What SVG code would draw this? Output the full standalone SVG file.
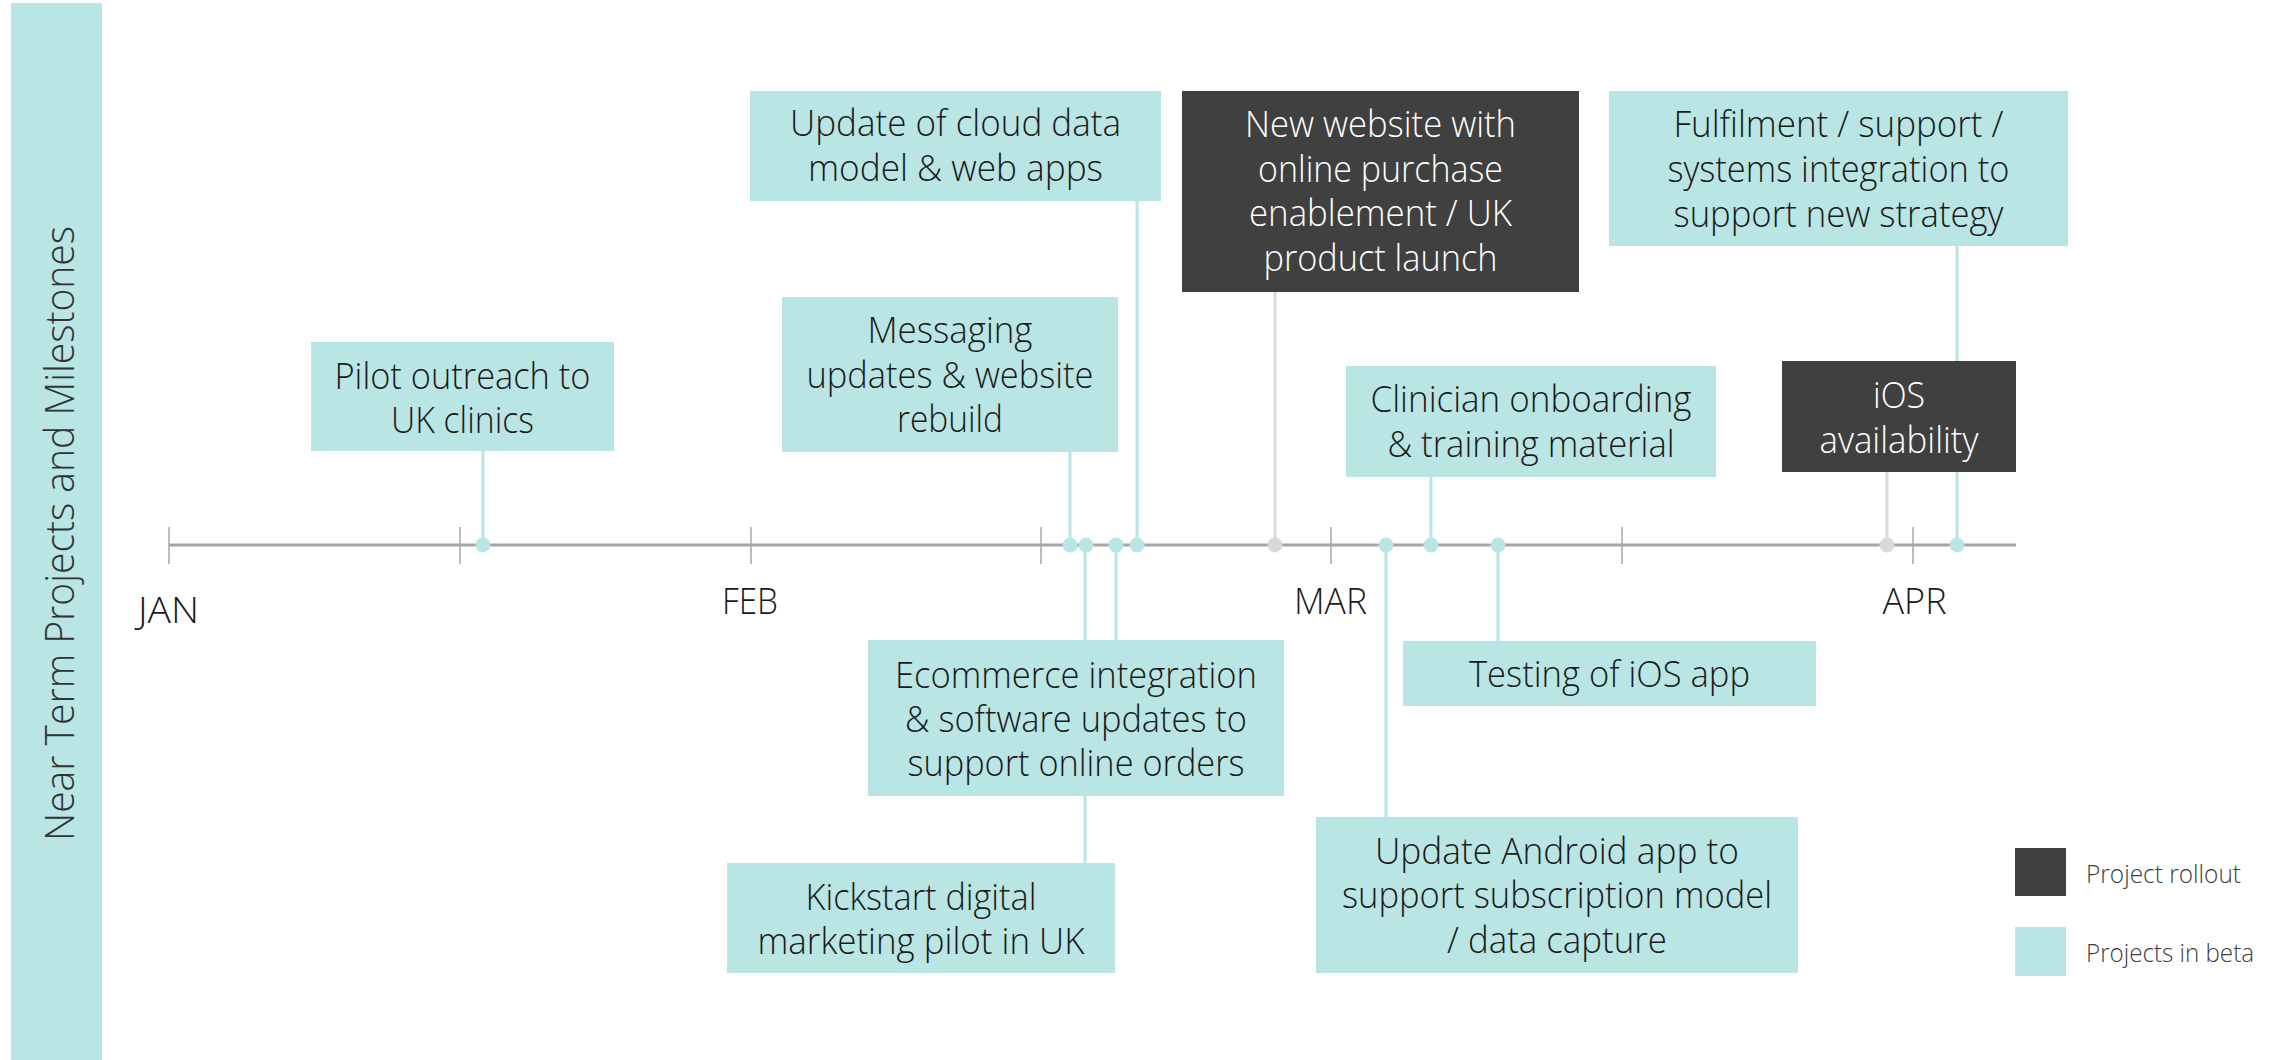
<svg xmlns="http://www.w3.org/2000/svg" width="2285" height="1060" viewBox="0 0 2285 1060">
<style>
.bg{fill:#ffffff}
.beta{fill:#b9e5e5}
.roll{fill:#404040}
.t{font-family:"Open Sans","Noto Sans","Liberation Sans",sans-serif;font-weight:300;font-size:36px;fill:#1a1a1a;text-anchor:middle}
.tw{fill:#ffffff}
.mon{font-family:"Open Sans","Noto Sans","Liberation Sans",sans-serif;font-weight:300;font-size:36px;fill:#1a1a1a;text-anchor:middle}
.leg{font-family:"Open Sans","Noto Sans","Liberation Sans",sans-serif;font-weight:300;font-size:26px;fill:#404040}
.title{font-family:"Open Sans","Noto Sans","Liberation Sans",sans-serif;font-weight:300;font-size:40px;fill:#333333;text-anchor:middle}
.axis{stroke:#a6a6a6;stroke-width:3;fill:none}
.tick{stroke:#a6a6a6;stroke-width:1.5;fill:none}
.cb{stroke:#b9e5e5;stroke-width:3;fill:none}
.cg{stroke:#d9d9d9;stroke-width:3;fill:none}
.db{fill:#b9e5e5}
.dg{fill:#d9d9d9}
</style>
<rect class="bg" x="0" y="0" width="2285" height="1060"/>
<g id="title-bar">
<rect class="beta" x="11" y="3" width="91" height="1057"/>
<text class="title" transform="translate(74,533.5) rotate(-90)" textLength="615" lengthAdjust="spacingAndGlyphs">Near Term Projects and Milestones</text>
</g>
<g id="axis">
<line class="axis" x1="169" y1="545" x2="2016" y2="545"/>
<line class="tick" x1="169" y1="527" x2="169" y2="564"/>
<line class="tick" x1="460" y1="527" x2="460" y2="564"/>
<line class="tick" x1="751" y1="527" x2="751" y2="564"/>
<line class="tick" x1="1041" y1="527" x2="1041" y2="564"/>
<line class="tick" x1="1331" y1="527" x2="1331" y2="564"/>
<line class="tick" x1="1622" y1="527" x2="1622" y2="564"/>
<line class="tick" x1="1913" y1="527" x2="1913" y2="564"/>
<text class="mon" x="168.5" y="623" textLength="61" lengthAdjust="spacingAndGlyphs">JAN</text>
<text class="mon" x="750" y="614" textLength="56" lengthAdjust="spacingAndGlyphs">FEB</text>
<text class="mon" x="1330.5" y="614" textLength="73" lengthAdjust="spacingAndGlyphs">MAR</text>
<text class="mon" x="1914.5" y="614" textLength="64" lengthAdjust="spacingAndGlyphs">APR</text>
</g>
<g id="connectors">
<line class="cb" x1="483" y1="451" x2="483" y2="545"/>
<line class="cb" x1="1070" y1="452" x2="1070" y2="545"/>
<line class="cb" x1="1085" y1="545" x2="1085" y2="863"/>
<line class="cb" x1="1116" y1="545" x2="1116" y2="640"/>
<line class="cb" x1="1137" y1="201" x2="1137" y2="545"/>
<line class="cg" x1="1275" y1="292" x2="1275" y2="545"/>
<line class="cb" x1="1386" y1="545" x2="1386" y2="817"/>
<line class="cb" x1="1431" y1="477" x2="1431" y2="545"/>
<line class="cb" x1="1498" y1="545" x2="1498" y2="641"/>
<line class="cg" x1="1887" y1="472" x2="1887" y2="545"/>
<line class="cb" x1="1957" y1="246" x2="1957" y2="545"/>
<circle class="db" cx="483" cy="545" r="7.5"/>
<circle class="db" cx="1070" cy="545" r="7.5"/>
<circle class="db" cx="1086" cy="545" r="7.5"/>
<circle class="db" cx="1116" cy="545" r="7.5"/>
<circle class="db" cx="1137" cy="545" r="7.5"/>
<circle class="dg" cx="1275" cy="545" r="7.5"/>
<circle class="db" cx="1386" cy="545" r="7.5"/>
<circle class="db" cx="1431" cy="545" r="7.5"/>
<circle class="db" cx="1498" cy="545" r="7.5"/>
<circle class="dg" cx="1887" cy="545" r="7.5"/>
<circle class="db" cx="1957" cy="545" r="7.5"/>
</g>
<g id="pilot">
<rect class="beta" x="311" y="342" width="303" height="109"/>
<text class="t" x="462.5" y="389" textLength="256" lengthAdjust="spacingAndGlyphs">Pilot outreach to</text>
<text class="t" x="462.5" y="433" textLength="143" lengthAdjust="spacingAndGlyphs">UK clinics</text>
</g>
<g id="cloud">
<rect class="beta" x="750" y="91" width="411" height="110"/>
<text class="t" x="955.5" y="136" textLength="331" lengthAdjust="spacingAndGlyphs">Update of cloud data</text>
<text class="t" x="955.5" y="180.5" textLength="295" lengthAdjust="spacingAndGlyphs">model &amp; web apps</text>
</g>
<g id="website">
<rect class="roll" x="1182" y="91" width="397" height="201"/>
<text class="t tw" x="1380.5" y="137" textLength="271" lengthAdjust="spacingAndGlyphs">New website with</text>
<text class="t tw" x="1380.5" y="181.5" textLength="245" lengthAdjust="spacingAndGlyphs">online purchase</text>
<text class="t tw" x="1380.5" y="226" textLength="263" lengthAdjust="spacingAndGlyphs">enablement / UK</text>
<text class="t tw" x="1380.5" y="270.5" textLength="234" lengthAdjust="spacingAndGlyphs">product launch</text>
</g>
<g id="messaging">
<rect class="beta" x="782" y="297" width="336" height="155"/>
<text class="t" x="950" y="343" textLength="165" lengthAdjust="spacingAndGlyphs">Messaging</text>
<text class="t" x="950" y="387.5" textLength="287" lengthAdjust="spacingAndGlyphs">updates &amp; website</text>
<text class="t" x="950" y="432" textLength="106" lengthAdjust="spacingAndGlyphs">rebuild</text>
</g>
<g id="clinician">
<rect class="beta" x="1346" y="366" width="370" height="111"/>
<text class="t" x="1531" y="411.5" textLength="321" lengthAdjust="spacingAndGlyphs">Clinician onboarding</text>
<text class="t" x="1531" y="456.5" textLength="287" lengthAdjust="spacingAndGlyphs">&amp; training material</text>
</g>
<g id="fulfilment">
<rect class="beta" x="1609" y="91" width="459" height="155"/>
<text class="t" x="1838.5" y="136.5" textLength="330" lengthAdjust="spacingAndGlyphs">Fulfilment / support /</text>
<text class="t" x="1838.5" y="181.5" textLength="342" lengthAdjust="spacingAndGlyphs">systems integration to</text>
<text class="t" x="1838.5" y="226.5" textLength="330" lengthAdjust="spacingAndGlyphs">support new strategy</text>
</g>
<g id="ios">
<rect class="roll" x="1782" y="361" width="234" height="111"/>
<text class="t tw" x="1899" y="407.5" textLength="52" lengthAdjust="spacingAndGlyphs">iOS</text>
<text class="t tw" x="1899" y="452.5" textLength="159" lengthAdjust="spacingAndGlyphs">availability</text>
</g>
<g id="ecommerce">
<rect class="beta" x="868" y="640" width="416" height="156"/>
<text class="t" x="1076" y="687.5" textLength="362" lengthAdjust="spacingAndGlyphs">Ecommerce integration</text>
<text class="t" x="1076" y="731.5" textLength="342" lengthAdjust="spacingAndGlyphs">&amp; software updates to</text>
<text class="t" x="1076" y="775.5" textLength="337" lengthAdjust="spacingAndGlyphs">support online orders</text>
</g>
<g id="kickstart">
<rect class="beta" x="727" y="863" width="388" height="110"/>
<text class="t" x="921" y="909.5" textLength="231" lengthAdjust="spacingAndGlyphs">Kickstart digital</text>
<text class="t" x="921" y="953.5" textLength="327" lengthAdjust="spacingAndGlyphs">marketing pilot in UK</text>
</g>
<g id="testing">
<rect class="beta" x="1403" y="641" width="413" height="65"/>
<text class="t" x="1609.5" y="687" textLength="281" lengthAdjust="spacingAndGlyphs">Testing of iOS app</text>
</g>
<g id="android">
<rect class="beta" x="1316" y="817" width="482" height="156"/>
<text class="t" x="1557" y="863.5" textLength="364" lengthAdjust="spacingAndGlyphs">Update Android app to</text>
<text class="t" x="1557" y="907.5" textLength="430" lengthAdjust="spacingAndGlyphs">support subscription model</text>
<text class="t" x="1557" y="952.5" textLength="220" lengthAdjust="spacingAndGlyphs">/ data capture</text>
</g>
<g id="legend">
<rect class="roll" x="2015" y="848" width="51" height="48"/>
<text class="leg" x="2086" y="882.5" textLength="155" lengthAdjust="spacingAndGlyphs">Project rollout</text>
<rect class="beta" x="2015" y="927" width="51" height="49"/>
<text class="leg" x="2086" y="961.5" textLength="168" lengthAdjust="spacingAndGlyphs">Projects in beta</text>
</g>
</svg>
